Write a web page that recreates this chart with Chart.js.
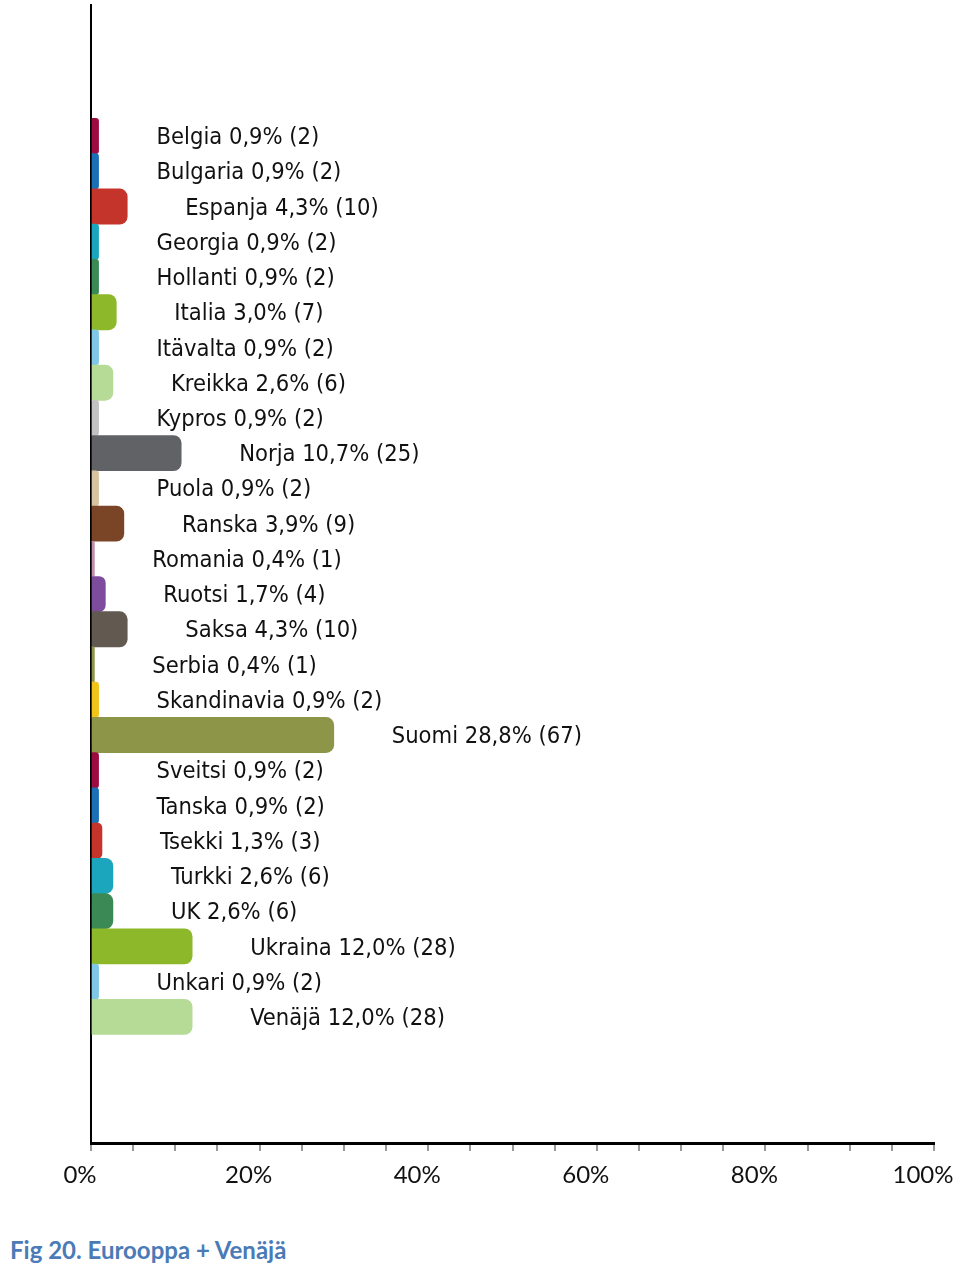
<!DOCTYPE html>
<html>
<head>
<meta charset="utf-8">
<script src="https://cdn.jsdelivr.net/npm/chart.js@4/dist/chart.umd.min.js"></script>
<style>
	body { margin: 0; background: #fff; }
	#wrap { position: relative; width: 960px; height: 1269px; }
	#box { position: absolute; left: 0; top: 0; width: 960px; height: 1200px; }
	#caption { position: absolute; left: 10px; top: 1236px; font: bold 24px Lato, sans-serif; color: #4a7bb7; line-height: 28px; }
</style>
</head>
<body>
<div id="wrap">
	<div id="box"><canvas id="maat"></canvas></div>
	<div id="caption">Fig 20. Eurooppa + Venäjä</div>
</div>
<script>
var maat = ["Belgia","Bulgaria","Espanja","Georgia","Hollanti","Italia","Itävalta","Kreikka","Kypros","Norja","Puola","Ranska","Romania","Ruotsi","Saksa","Serbia","Skandinavia","Suomi","Sveitsi","Tanska","Tsekki","Turkki","UK","Ukraina","Unkari","Venäjä"];
var osuus = [0.9,0.9,4.3,0.9,0.9,3.0,0.9,2.6,0.9,10.7,0.9,3.9,0.4,1.7,4.3,0.4,0.9,28.8,0.9,0.9,1.3,2.6,2.6,12.0,0.9,12.0];
var lkm = [2,2,10,2,2,7,2,6,2,25,2,9,1,4,10,1,2,67,2,2,3,6,6,28,2,28];
var akseli = [0,20,40,60,80,100];

var varit = ['#9c0c40','#1c6fb4','#c4342b','#1ba6be','#3b8a55','#8cb829','#7fc7e5','#b5db97','#c2c2c2','#606266','#d5c49f','#7a4527','#bf8ea9','#7e4c9c','#625951','#8c9549','#f1c41a','#8d9549'];

var data = [];
var colors = [];
for (var i in maat) {
	data.push({ x: osuus[i], y: Number(i) });
	colors.push(varit[i % varit.length]);
}

var labelPlugin = {
	id: 'labelPlugin',
	afterDatasetsDraw: function(chart) {
		var ctx = chart.ctx;
		var meta = chart.getDatasetMeta(0);
		ctx.save();
		ctx.font = '23.5px "DejaVu Sans Condensed", "DejaVu Sans", sans-serif';
		ctx.fillStyle = '#111';
		ctx.textBaseline = 'middle';
		ctx.textAlign = 'left';
		meta.data.forEach(function(bar, i) {
			var txt = maat[i] + ' ' + osuus[i].toFixed(1).replace('.', ',') + '% (' + lkm[i] + ')';
			ctx.fillText(txt, bar.x + 58, bar.y + 2);
		});
		ctx.restore();
	}
};

var ctx = document.getElementById('maat');
var chart = new Chart(ctx, {
	type: 'bar',
	data: {
		datasets: [{
			data: data,
			backgroundColor: colors,
			borderWidth: 0,
			borderRadius: 8,
			borderSkipped: 'start',
			barPercentage: 1,
			categoryPercentage: 1
		}]
	},
	options: {
		indexAxis: 'y',
		responsive: true,
		maintainAspectRatio: false,
		animation: false,
		layout: { padding: { left: 91, right: 26, top: 5, bottom: 0 } },
		plugins: { legend: { display: false }, tooltip: { enabled: false } },
		scales: {
			y: {
				type: 'linear',
				reverse: true,
				offset: false,
				min: -3.72,
				max: 28.58,
				ticks: { display: false },
				grid: { display: true, drawOnChartArea: false, drawTicks: false },
				border: { display: true, color: '#000', width: 2 },
				afterFit: function(s) { s.width = 0; }
			},
			x: {
				min: 0,
				max: 100,
				ticks: {
					stepSize: 5,
					autoSkip: false,
					maxRotation: 0,
					padding: 10,
					labelOffset: -11,
					color: '#111',
					font: { family: 'Lato', size: 24 },
					callback: function(v) { return akseli.indexOf(v) >= 0 ? v + '%' : ''; }
				},
				grid: { display: true, drawOnChartArea: false, drawTicks: true, tickLength: 8, color: '#999', lineWidth: 2 },
				border: { display: true, color: '#000', width: 3 },
				afterFit: function(s) { s.height = 57; s.paddingLeft = 0; s.paddingRight = 0; }
			}
		}
	},
	plugins: [labelPlugin]
});
</script>
</body>
</html>
